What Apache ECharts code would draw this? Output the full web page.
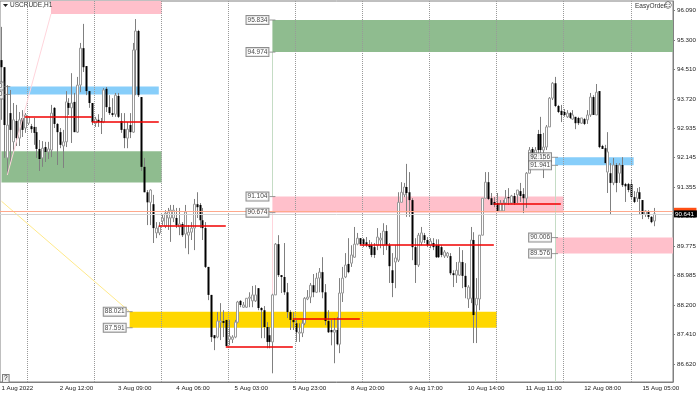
<!DOCTYPE html>
<html>
<head>
<meta charset="utf-8">
<title>USCRUDE,H1</title>
<script src="https://cdn.jsdelivr.net/npm/echarts@6/dist/echarts.min.js"></script>
<style>
  html, body { margin: 0; padding: 0; background: #fff; }
  #chart { width: 700px; height: 393px; }
</style>
</head>
<body>
<div id="chart"></div>
<script>
// hourly bars
const opens = [94.76,94.57,92.14,93.34,92.57,93.13,92.67,93.21,92.94,93.07,92.99,92.97,92.83,92.38,92.14,92.43,92.30,92.35,93.48,93.05,
  92.83,92.46,92.57,93.61,93.48,93.64,92.83,94.09,95.08,94.60,93.93,93.61,93.07,93.16,93.13,93.10,93.99,93.50,93.34,93.31,
  93.80,93.13,92.91,92.67,93.02,92.83,95.03,95.54,93.77,91.90,91.22,90.95,90.90,90.13,90.13,90.45,90.31,90.53,90.53,90.53,
  90.53,90.29,90.37,90.10,90.07,90.15,90.26,90.90,90.88,90.47,90.26,89.22,88.47,87.39,87.34,87.74,87.77,87.80,87.28,87.28,
  87.34,87.74,88.31,88.14,88.14,88.38,88.31,88.31,88.65,88.12,88.06,87.61,87.39,87.21,88.47,89.83,89.00,88.95,88.54,88.01,
  87.80,87.71,87.45,87.45,87.71,88.36,88.41,88.73,88.54,88.92,89.08,88.54,87.77,87.53,87.47,87.53,87.15,88.52,88.95,89.30,
  89.32,89.48,89.83,89.99,89.96,89.88,89.80,89.80,89.75,89.80,89.94,89.80,90.18,89.80,89.13,89.35,89.40,90.95,91.15,91.36,
  91.22,91.01,89.75,89.27,89.88,90.07,89.94,89.80,89.86,89.80,89.80,89.75,89.51,89.51,89.51,89.05,89.00,89.00,89.35,88.98,
  88.36,88.38,89.94,88.20,88.36,90.07,91.06,91.49,91.06,90.96,90.93,90.72,90.72,90.93,91.09,90.93,91.12,91.15,91.25,91.17,
  91.06,91.73,92.38,92.08,92.78,92.78,92.35,92.43,92.97,93.74,94.14,93.53,93.40,93.37,93.24,93.34,93.18,93.24,93.21,93.07,
  93.18,93.16,93.29,93.77,93.29,93.93,92.46,92.40,91.76,91.73,91.47,91.95,91.73,91.95,91.44,91.44,91.44,91.09,91.06,91.22,
  91.01,90.63,90.69,90.56,90.45]
const closes = [94.57,93.02,93.02,92.89,93.16,92.67,93.16,92.89,93.29,93.24,92.91,92.81,92.38,92.11,92.40,92.30,92.38,93.34,93.05,92.83,
  92.49,92.57,93.64,93.48,93.61,92.83,94.09,95.08,94.57,93.93,93.61,93.10,93.18,93.10,93.10,93.96,93.50,93.34,93.29,93.82,
  93.24,92.89,92.67,92.91,92.83,95.03,95.54,93.82,91.90,91.22,90.95,91.28,90.26,90.26,90.31,90.53,90.66,90.69,90.74,90.74,
  90.34,90.37,90.07,90.69,90.15,90.26,90.90,90.82,90.47,90.26,89.22,88.47,87.34,87.31,87.77,87.77,87.72,87.10,87.36,87.34,
  87.74,88.28,88.20,88.20,88.38,88.41,88.47,88.47,88.12,88.06,87.61,87.21,87.21,88.47,89.83,89.00,88.95,88.54,88.01,87.80,
  87.74,87.47,87.47,87.71,88.38,88.41,88.73,88.54,88.92,89.08,88.54,87.77,87.47,87.47,87.53,87.15,88.52,88.92,89.27,89.08,
  89.54,89.83,89.99,89.83,89.83,89.80,89.75,89.54,89.54,90.02,89.99,90.18,89.80,89.24,88.79,89.46,90.95,91.22,91.36,91.20,
  91.01,89.75,89.27,90.07,90.13,89.94,89.80,89.91,89.75,89.48,89.48,89.54,89.62,89.59,89.05,89.00,89.13,89.35,88.98,88.68,
  88.68,89.94,87.93,88.38,90.07,91.06,91.49,91.04,90.88,90.88,90.72,90.93,90.93,91.06,91.06,91.12,90.93,91.28,91.12,91.06,
  91.73,92.35,92.14,92.35,92.35,92.35,92.43,92.97,93.74,94.14,93.53,93.37,93.29,93.29,93.34,93.21,93.29,93.07,93.07,93.21,
  93.05,93.29,93.77,93.29,93.90,92.43,92.38,92.00,92.30,91.47,91.95,91.47,91.95,91.41,91.38,91.28,91.09,90.96,91.22,91.04,
  90.61,90.72,90.56,90.42,90.64]
const lows = [93.16,92.14,91.68,92.03,92.30,92.46,92.46,92.70,92.81,93.02,92.81,92.49,92.14,91.79,91.90,92.03,92.11,92.16,92.94,91.95,
  92.40,91.87,92.43,93.29,92.54,92.83,92.81,93.90,94.44,93.82,93.48,93.02,92.97,92.97,92.78,93.07,93.37,93.29,93.24,93.24,
  93.21,92.81,92.40,92.40,92.67,92.81,93.82,93.77,91.79,91.22,90.34,90.34,89.86,89.99,90.07,90.34,90.26,90.21,89.89,90.42,
  90.26,90.07,90.02,89.72,89.56,89.94,89.67,90.53,90.26,89.94,89.19,88.33,87.21,86.99,87.31,87.26,87.34,87.10,87.12,87.18,
  87.31,87.71,88.14,88.12,88.12,88.14,88.14,88.28,88.06,87.31,87.31,87.04,87.04,86.37,88.47,88.95,88.52,88.47,87.85,87.53,
  87.53,87.21,87.21,87.34,87.66,88.33,88.25,88.41,88.52,88.54,88.38,87.66,87.45,87.12,86.64,87.12,86.91,88.28,88.92,89.05,
  89.22,89.46,89.80,89.80,89.75,89.75,89.70,89.48,89.46,89.67,89.72,89.54,89.67,88.79,88.41,88.65,89.35,90.95,91.09,90.56,
  90.56,89.40,88.79,89.22,89.80,89.86,89.75,89.72,89.67,89.46,89.46,89.48,89.46,89.46,89.00,88.68,88.79,88.98,88.65,88.38,
  88.12,88.25,87.18,87.18,88.06,90.07,91.06,91.01,90.88,90.82,90.72,90.69,90.69,90.90,90.88,90.90,90.88,90.93,90.96,90.66,
  90.80,91.73,92.08,92.03,92.16,92.16,91.60,92.35,92.97,93.69,93.50,93.34,93.10,93.24,93.21,93.18,93.16,92.91,93.02,93.05,
  93.02,93.05,93.24,93.29,93.29,92.40,92.38,92.00,91.20,90.61,91.41,91.22,91.47,91.36,90.96,91.22,91.01,90.93,90.96,90.61,
  90.50,90.56,90.50,90.39,90.31]
const highs = [95.65,94.57,94.09,93.96,93.61,93.56,93.37,93.42,93.34,93.26,93.05,93.21,92.97,92.62,92.59,92.57,92.57,93.56,93.50,93.07,
  92.94,92.89,93.93,93.74,94.41,93.88,94.31,95.22,95.73,94.60,93.93,93.61,93.24,93.31,93.21,94.01,94.04,93.82,93.74,93.88,
  93.88,93.34,93.34,93.10,93.34,95.22,95.86,95.57,93.77,92.14,91.28,91.30,91.15,90.42,90.42,90.61,90.74,90.80,90.88,90.88,
  90.80,90.80,90.42,90.88,90.34,90.42,91.04,91.22,90.93,90.80,90.42,89.22,88.47,87.39,88.01,88.25,88.06,87.80,87.80,87.39,
  87.80,88.31,88.33,88.28,88.38,88.54,88.71,88.73,88.65,88.14,88.17,87.74,87.61,88.54,89.86,90.07,89.00,89.86,88.79,88.06,
  88.01,87.80,87.71,87.80,88.41,88.60,88.79,89.03,89.06,89.19,89.48,88.76,88.06,87.80,87.85,87.88,88.92,89.22,89.59,89.99,
  89.80,90.29,90.13,89.99,89.99,90.02,89.94,89.88,89.86,90.26,90.13,90.39,90.34,89.86,89.59,89.80,91.22,91.49,91.47,91.98,
  91.76,91.06,89.99,90.13,90.29,90.13,90.02,89.99,89.99,89.96,89.96,89.80,89.67,89.62,89.59,89.13,89.35,89.75,89.67,89.32,
  88.73,90.29,90.15,88.92,90.07,91.06,91.76,91.76,91.20,91.09,91.20,91.01,91.01,91.28,91.33,91.15,91.20,91.28,91.47,91.33,
  91.76,92.43,92.43,92.43,92.89,93.24,92.81,93.02,93.77,94.17,94.31,93.56,93.56,93.45,93.42,93.37,93.42,93.24,93.24,93.21,
  93.21,93.42,93.88,93.82,94.12,93.93,92.49,92.49,92.83,92.00,92.14,92.00,92.00,92.16,91.47,91.47,91.55,91.25,91.33,91.36,
  91.01,90.74,90.74,90.58,90.80]

const days = ['1 Aug', '2 Aug', '3 Aug', '4 Aug', '5 Aug', '8 Aug', '9 Aug', '10 Aug', '11 Aug', '12 Aug', '15 Aug']
const dayStartBars = [9, 32, 55, 78, 101, 124, 147, 170, 193, 216]
const priceTicks = [96.09, 95.3, 94.51, 93.72, 92.935, 92.145, 91.355, 90.565, 89.775, 88.985, 88.2, 87.41, 86.62]
const askPrice = 90.711
const bidPrice = 90.641

// zones: first bar, last bar, upper price, lower price, colour
const zoneStart = [17, 2, 0, 93, 93, 190, 190, 44]
const zoneEnd = [55, 54, 55, 231, 193, 217, 231, 170]
const zoneTop = [96.5, 94.05, 92.32, 95.834, 91.104, 92.156, 90.006, 88.021]
const zoneBottom = [95.995, 93.84, 91.48, 94.974, 90.674, 91.941, 89.576, 87.591]
const zoneColor = ['#ffc0cb', '#87cefa', '#8fbc8f', '#8fbc8f', '#ffc0cb', '#87cefa', '#ffc0cb', '#ffd700']

// red levels: first bar, last bar, price
const levelStart = [8, 31, 54, 77, 100, 123, 169]
const levelEnd = [31, 54, 77, 100, 123, 169, 192]
const levelPrice = [93.24, 93.11, 90.32, 87.08, 87.84, 89.81, 90.92]

// price tags on the left side of the zones
const tagBar = [2, 2, 93, 93, 93, 93, 190, 190, 190, 190, 44, 44]
const tagPrice = [94.05, 93.84, 95.834, 94.974, 91.104, 90.674, 92.156, 91.941, 90.006, 89.576, 88.021, 87.591]

const font = 'Liberation Sans'
const totalBars = 231

// 23 hourly bars per trading day, the first one only from 15:00
const categories = []
let dayIdx = 0
let hour = 15
for (let i = 0; i < totalBars; i++) {
  if (dayStartBars.includes(i)) {
    dayIdx++
    hour = 1
  }
  categories.push(days[dayIdx] + ' ' + String(hour).padStart(2, '0') + ':00')
  hour++
}
categories[0] = '1 Aug 2022'

const candleData = opens.map((o, i) => [i, o, closes[i], lows[i], highs[i]])
const zoneData = zoneStart.map((s, i) => [s, zoneEnd[i], zoneTop[i], zoneBottom[i], i])

const renderCandle = (params, api) => {
  const x = api.value(0)
  const open = api.coord([x, api.value(1)])
  const close = api.coord([x, api.value(2)])
  const low = api.coord([x, api.value(3)])
  const high = api.coord([x, api.value(4)])
  const px = Math.round(open[0])
  const top = Math.min(open[1], close[1])
  const h = Math.max(Math.abs(open[1] - close[1]), 1)
  const bull = api.value(2) >= api.value(1)
  return {
    type: 'group',
    children: [{
      type: 'line',
      shape: { x1: px + 0.5, y1: high[1], x2: px + 0.5, y2: low[1] },
      style: { stroke: '#808080', lineWidth: 1 }
    }, {
      type: 'rect',
      shape: { x: px - 0.5, y: top, width: 2, height: h },
      style: bull ? { fill: '#fff', stroke: '#9a9a9a', lineWidth: 1 } : { fill: '#000' }
    }]
  }
}

const renderZone = (params, api) => {
  const from = api.coord([api.value(0), api.value(2)])
  const to = api.coord([api.value(1), api.value(3)])
  const rect = echarts.graphic.clipRectByRect(
    { x: from[0], y: from[1], width: to[0] - from[0], height: to[1] - from[1] },
    params.coordSys
  )
  return rect && { type: 'rect', shape: rect, style: { fill: zoneColor[api.value(4)] } }
}

const option = {
  animation: false,
  grid: { left: 0, right: 27, top: 1, bottom: 11, outerBoundsMode: 'none', show: true, borderColor: '#808080', borderWidth: 1 },
  xAxis: {
    type: 'category',
    data: categories,
    boundaryGap: true,
    axisLine: { lineStyle: { color: '#808080' } },
    axisTick: {
      alignWithLabel: true,
      length: 2,
      interval: (i) => i % 20 === 0 && i <= 220,
      lineStyle: { color: '#808080' }
    },
    axisLabel: {
      interval: (i) => i % 20 === 0 && i <= 220,
      align: 'left',
      margin: 3,
      fontFamily: font,
      fontSize: 6.2,
      color: '#222'
    },
    splitLine: { show: false }
  },
  yAxis: {
    type: 'value',
    position: 'right',
    min: 86.137,
    max: 96.343,
    axisLine: { show: true, lineStyle: { color: '#808080' } },
    axisTick: { show: true, length: 2, customValues: priceTicks, lineStyle: { color: '#808080' } },
    axisLabel: {
      customValues: priceTicks,
      formatter: (v) => v.toFixed(3),
      margin: 4,
      fontFamily: font,
      fontSize: 6.2,
      color: '#222'
    },
    splitLine: { show: false }
  },
  series: [{
    // day separators
    type: 'line',
    data: [],
    silent: true,
    z: 1,
    markLine: {
      silent: true,
      symbol: 'none',
      label: { show: false },
      lineStyle: { color: '#999', type: 'dotted', width: 1 },
      data: dayStartBars.map((b) => ({ xAxis: b }))
    }
  }, {
    type: 'custom',
    name: 'zones',
    renderItem: renderZone,
    encode: { x: [0, 1], y: [2, 3] },
    data: zoneData,
    silent: true,
    z: 2
  }, {
    type: 'custom',
    name: 'USCRUDE,H1',
    renderItem: renderCandle,
    encode: { x: 0, y: [1, 2, 3, 4] },
    data: candleData,
    clip: true,
    z: 3
  }, {
    // thin guide lines from the zones
    type: 'line',
    data: [],
    silent: true,
    z: 3,
    markLine: {
      silent: true,
      symbol: 'none',
      label: { show: false },
      data: [
        [{ xAxis: 17, yAxis: 95.995, lineStyle: { color: '#ffd5dc', type: 'solid', width: 1 } }, { xAxis: 2, yAxis: 91.68 }],
        [{ xAxis: 0, yAxis: 90.98, lineStyle: { color: '#ffe98a', type: 'solid', width: 1 } }, { xAxis: 44, yAxis: 88.021 }],
        [{ xAxis: 93, yAxis: 94.974, lineStyle: { color: '#c5dcc5', type: 'solid', width: 1 } }, { xAxis: 93, yAxis: 91.104 }],
        [{ xAxis: 93, yAxis: 90.674, lineStyle: { color: '#ffd5dc', type: 'solid', width: 1 } }, { xAxis: 93, yAxis: 88.5 }],
        [{ xAxis: 190, yAxis: 91.941, lineStyle: { color: '#c5dcc5', type: 'solid', width: 1 } }, { xAxis: 190, yAxis: 86.137 }]
      ]
    }
  }, {
    // red levels
    type: 'line',
    data: [],
    silent: true,
    z: 4,
    markLine: {
      silent: true,
      symbol: 'none',
      label: { show: false },
      lineStyle: { color: '#f00000', type: 'solid', width: 1.5 },
      data: levelStart.map((s, i) => [
        { xAxis: s, yAxis: levelPrice[i] },
        { xAxis: levelEnd[i], yAxis: levelPrice[i] }
      ])
    }
  }, {
    // ask and bid
    type: 'line',
    data: [],
    silent: true,
    z: 5,
    markLine: {
      silent: true,
      symbol: 'none',
      data: [{
        yAxis: askPrice,
        lineStyle: { color: '#ffa98c', type: 'solid', width: 1 },
        label: {
          show: true, position: 'end', distance: 1, formatter: askPrice.toFixed(3),
          backgroundColor: '#ff4f14', color: '#ff4f14', fontFamily: font, fontSize: 6.2, padding: [1, 3, 0, 1]
        }
      }, {
        yAxis: bidPrice,
        lineStyle: { color: '#d4d4d4', type: 'solid', width: 1 },
        label: {
          show: true, position: 'end', distance: 1, formatter: bidPrice.toFixed(3),
          backgroundColor: '#000', color: '#fff', fontFamily: font, fontSize: 6.2, padding: [1, 3, 0, 1]
        }
      }]
    }
  }, {
    // price tags
    type: 'scatter',
    silent: true,
    z: 6,
    symbol: 'rect',
    symbolSize: [6, 1],
    itemStyle: { color: '#808080' },
    data: tagBar.map((b, i) => [b, tagPrice[i]]),
    label: {
      show: true,
      position: 'left',
      distance: 1,
      formatter: (p) => p.value[1].toFixed(3),
      backgroundColor: '#fff',
      borderColor: '#707070',
      borderWidth: 1,
      padding: [1, 1, 0, 1],
      fontFamily: font,
      fontSize: 6.5,
      color: '#111'
    }
  }],
  graphic: [
    { type: 'polygon', shape: { points: [[3, 4], [8, 4], [5.5, 7]] }, style: { fill: '#222' }, z: 10 },
    { type: 'text', x: 10, y: 2, style: { text: 'USCRUDE,H1', font: '6.5px ' + font, fill: '#333' }, z: 10 },
    { type: 'text', x: 635, y: 3, style: { text: 'EasyOrder', font: '6.5px ' + font, fill: '#333' }, z: 10 },
    { type: 'text', x: 664, y: 2, style: { text: '\u263a', font: '8px DejaVu Sans', fill: '#333' }, z: 10 },
    {
      type: 'text', x: 3, y: 375,
      style: { text: '?', font: '6.5px ' + font, fill: '#222', backgroundColor: '#eee', borderColor: '#808080', borderWidth: 1, padding: [0, 1] },
      z: 10
    }
  ]
}

const chart = echarts.init(document.getElementById('chart'), null, { renderer: 'canvas' })
chart.setOption(option)
</script>
</body>
</html>
